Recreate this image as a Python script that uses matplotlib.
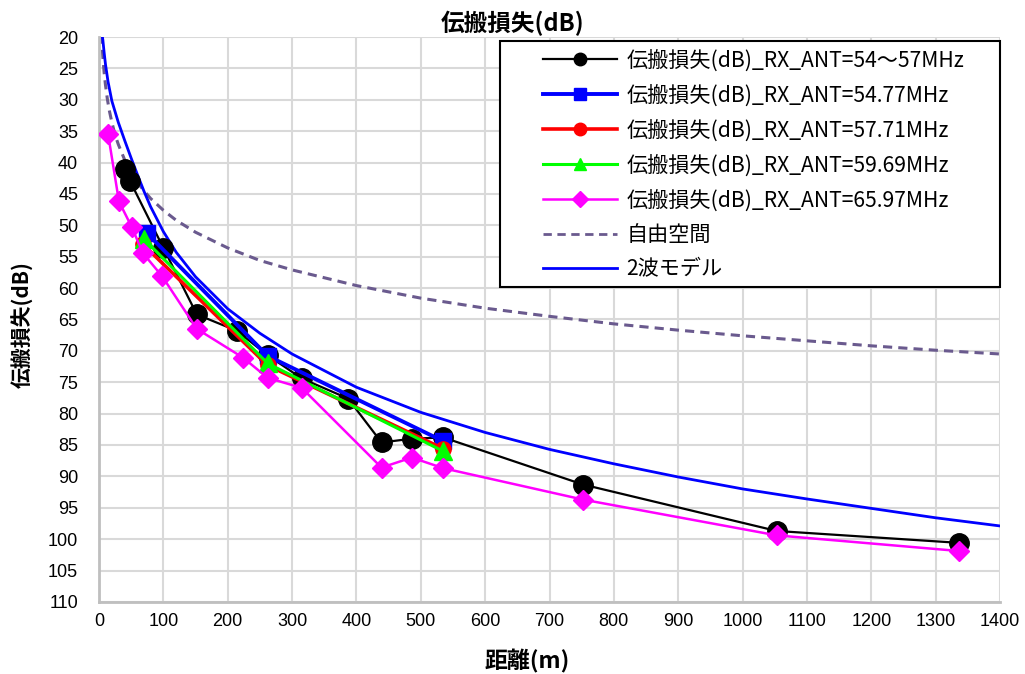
import numpy as np
import matplotlib.pyplot as plt
from matplotlib.lines import Line2D
from matplotlib.patches import Rectangle

plt.rcParams['font.family'] = ['Noto Sans CJK JP', 'DejaVu Sans']

# measured series (distance m, loss dB)
d_black = [40, 48, 100, 152, 214, 262, 315, 387, 439, 486, 535, 752, 1053, 1337]
l_black = [41.1, 42.9, 53.6, 64.2, 66.8, 70.7, 74.4, 77.6, 84.6, 84.0, 83.8, 91.3, 98.7, 100.6]

d_blue = [75, 262, 535]
l_blue = [51.3, 70.8, 84.4]

d_red = [68, 262, 535]
l_red = [53.0, 72.3, 85.6]

d_green = [70, 262, 535]
l_green = [52.2, 72.0, 86.0]

d_mag = [14, 31, 51, 68, 98, 152, 224, 262, 315, 439, 486, 535, 752, 1053, 1337]
l_mag = [35.4, 46.2, 50.3, 54.4, 58.1, 66.5, 71.1, 74.3, 75.9, 88.6, 87.0, 88.7, 93.7, 99.4, 101.9]

# reference curves
d_free = [4, 5, 6, 8, 10, 13, 16, 20, 25, 30, 40, 50, 60, 70, 80, 100, 120, 150, 200, 250,
          300, 400, 500, 600, 700, 800, 900, 1000, 1100, 1200, 1300, 1400]
l_free = [19.6, 21.6, 23.2, 25.7, 27.6, 29.9, 31.7, 33.6, 35.6, 37.1, 39.6, 41.6, 43.2, 44.5,
          45.7, 47.6, 49.2, 51.1, 53.6, 55.6, 57.1, 59.6, 61.6, 63.2, 64.5, 65.7, 66.7, 67.6,
          68.4, 69.2, 69.9, 70.5]

d_2wave = [3, 4, 6, 8, 10, 14, 20, 30, 40, 50, 60, 70, 80, 100, 120, 150, 200, 250, 300,
           400, 500, 600, 700, 800, 900, 1000, 1100, 1200, 1300, 1400]
l_2wave = [17.0, 19.0, 20.5, 22.5, 24.3, 27.1, 30.2, 33.6, 36.5, 39.3, 42.0, 44.6, 47.0, 51.0,
           54.3, 58.2, 63.3, 67.2, 70.5, 75.8, 79.8, 83.0, 85.7, 88.0, 90.1, 92.0, 93.6, 95.1,
           96.6, 97.9]

labels = ['伝搬損失(dB)_RX_ANT=54～57MHz', '伝搬損失(dB)_RX_ANT=54.77MHz',
          '伝搬損失(dB)_RX_ANT=57.71MHz', '伝搬損失(dB)_RX_ANT=59.69MHz',
          '伝搬損失(dB)_RX_ANT=65.97MHz', '自由空間', '2波モデル']

fig = plt.figure(figsize=(10.25, 6.74), dpi=100)
ax = fig.add_axes([0.0966, 0.107, 0.879, 0.838])

c_free = '#6a5a8e'
ax.plot(d_black, l_black, color='black', lw=1.6, marker='o', ms=14, zorder=3)
ax.plot(d_blue, l_blue, color='#0000ff', lw=2.8, marker='s', ms=11, zorder=3)
ax.plot(d_red, l_red, color='#ff0000', lw=2.6, marker='o', ms=11, zorder=3)
ax.plot(d_green, l_green, color='#00ff00', lw=2.2, marker='^', ms=13, zorder=3)
ax.plot(d_mag, l_mag, color='#ff00ff', lw=1.8, marker='D', ms=10, zorder=3)
ax.plot(d_free, l_free, color=c_free, lw=2.2, ls=(0, (3, 2)), zorder=2)
ax.plot(d_2wave, l_2wave, color='#0000ff', lw=2.0, zorder=2)

ax.set_xlim(0, 1400)
ax.set_ylim(110, 20)
ax.set_xticks(np.arange(0, 1401, 100))
ax.set_yticks(np.arange(20, 111, 5))
ax.grid(True, color='#d9d9d9', lw=1.5)
ax.set_axisbelow(True)
for s in ['top', 'right']:
    ax.spines[s].set_visible(False)
for s in ['left', 'bottom']:
    ax.spines[s].set_color('#bfbfbf')
    ax.spines[s].set_linewidth(2)
ax.tick_params(length=0, labelsize=13, labelfontfamily='Liberation Sans')
ax.tick_params(axis='x', pad=8)
ax.tick_params(axis='y', pad=15)

fig.text(0.5, 0.966, '伝搬損失(dB)', ha='center', va='center', fontsize=17, fontweight='bold')
fig.text(0.514, 0.019, '距離(m)', ha='center', va='center', fontsize=16.5, fontweight='bold')
fig.text(0.022, 0.518, '伝搬損失(dB)', ha='center', va='center', rotation=90,
         fontsize=15, fontweight='bold')

# legend frame drawn separately to get the wide Excel-style box
ax.add_patch(Rectangle((0.445, 0.5575), 0.555, 0.435, transform=ax.transAxes,
                       facecolor='white', edgecolor='black', lw=1.5, zorder=4, clip_on=False))

handles = [
    Line2D([], [], color='black', lw=1.6, marker='o', ms=9),
    Line2D([], [], color='#0000ff', lw=2.8, marker='s', ms=9),
    Line2D([], [], color='#ff0000', lw=2.6, marker='o', ms=9),
    Line2D([], [], color='#00ff00', lw=2.2, marker='^', ms=9),
    Line2D([], [], color='#ff00ff', lw=1.8, marker='D', ms=8),
    Line2D([], [], color=c_free, lw=2.0, ls=(0, (3, 2))),
    Line2D([], [], color='#0000ff', lw=2.0),
]
leg = ax.legend(handles, labels, loc='upper left', bbox_to_anchor=(0.4928, 0.978),
                fontsize=15.2, handlelength=3.5, handletextpad=0.45, frameon=False,
                labelspacing=0.6, borderpad=0, borderaxespad=0)
leg.set_zorder(5)

fig.savefig('out.png', dpi=100)
